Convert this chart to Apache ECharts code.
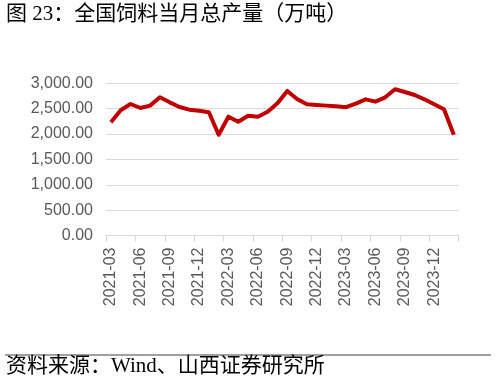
<!DOCTYPE html>
<html>
<head>
<meta charset="utf-8">
<script src="https://cdn.jsdelivr.net/npm/echarts@6/dist/echarts.min.js"></script>
<style>
html,body{margin:0;padding:0;background:#fff;}
#c{width:496px;height:385px;}
</style>
</head>
<body>
<div id="c"></div>
<script>
const months = [
 '2021-03','2021-04','2021-05','2021-06','2021-07','2021-08','2021-09','2021-10','2021-11','2021-12',
 '2022-01','2022-02','2022-03','2022-04','2022-05','2022-06','2022-07','2022-08','2022-09','2022-10',
 '2022-11','2022-12','2023-01','2023-02','2023-03','2023-04','2023-05','2023-06','2023-07','2023-08',
 '2023-09','2023-10','2023-11','2023-12','2024-01','2024-02'
];
const output = [
 2231, 2470, 2592, 2513, 2560, 2725, 2625, 2533, 2480, 2460,
 2428, 1985, 2342, 2243, 2361, 2342, 2440, 2605, 2849, 2691,
 2586, 2573, 2560, 2546, 2530, 2598, 2684, 2638, 2724, 2882,
 2829, 2770, 2684, 2586, 2487, 1985
];
const yTicks = [0, 500, 1000, 1500, 2000, 2500, 3000];
const titleText = '图 23：全国饲料当月总产量（万吨）';
const sourceText = '资料来源：Wind、山西证券研究所';

const chart = echarts.init(document.getElementById('c'), null, {renderer: 'canvas'});
chart.setOption({
  animation: false,
  backgroundColor: '#fff',
  grid: {left: 106, right: 37.3, top: 83.3, bottom: 149.5, containLabel: false},
  xAxis: {
    type: 'category',
    data: months,
    boundaryGap: true,
    axisLine: {lineStyle: {color: '#d9d9d9', width: 1}},
    axisTick: {show: true, interval: 2, length: 6, lineStyle: {color: '#d9d9d9'}},
    axisLabel: {interval: 2, rotate: 90, margin: 12, color: '#595959', fontSize: 16, fontFamily: 'Liberation Sans'}
  },
  yAxis: {
    type: 'value',
    min: yTicks[0],
    max: yTicks[yTicks.length - 1],
    interval: 500,
    axisLine: {show: false},
    axisTick: {show: false},
    splitLine: {lineStyle: {color: '#d9d9d9', width: 1}},
    axisLabel: {
      color: '#595959', fontSize: 16, fontFamily: 'Liberation Sans', margin: 13,
      formatter: v => v.toLocaleString('en-US', {minimumFractionDigits: 2, maximumFractionDigits: 2})
    }
  },
  series: [{
    type: 'line',
    data: output,
    symbol: 'none',
    lineStyle: {color: '#c00000', width: 4, join: 'round'},
    itemStyle: {color: '#c00000'}
  }],
  graphic: [
    {type: 'text', left: 6, top: 4, style: {text: titleText, font: '21px "Liberation Serif", "Noto Sans CJK SC"', fill: '#000'}},
    {type: 'line', shape: {x1: 5, y1: 355, x2: 491, y2: 355}, style: {stroke: '#808080', lineWidth: 1.5}},
    {type: 'text', left: 6, top: 356, style: {text: sourceText, font: '21px "Liberation Serif", "Noto Sans CJK SC"', fill: '#000'}}
  ]
});
</script>
</body>
</html>
